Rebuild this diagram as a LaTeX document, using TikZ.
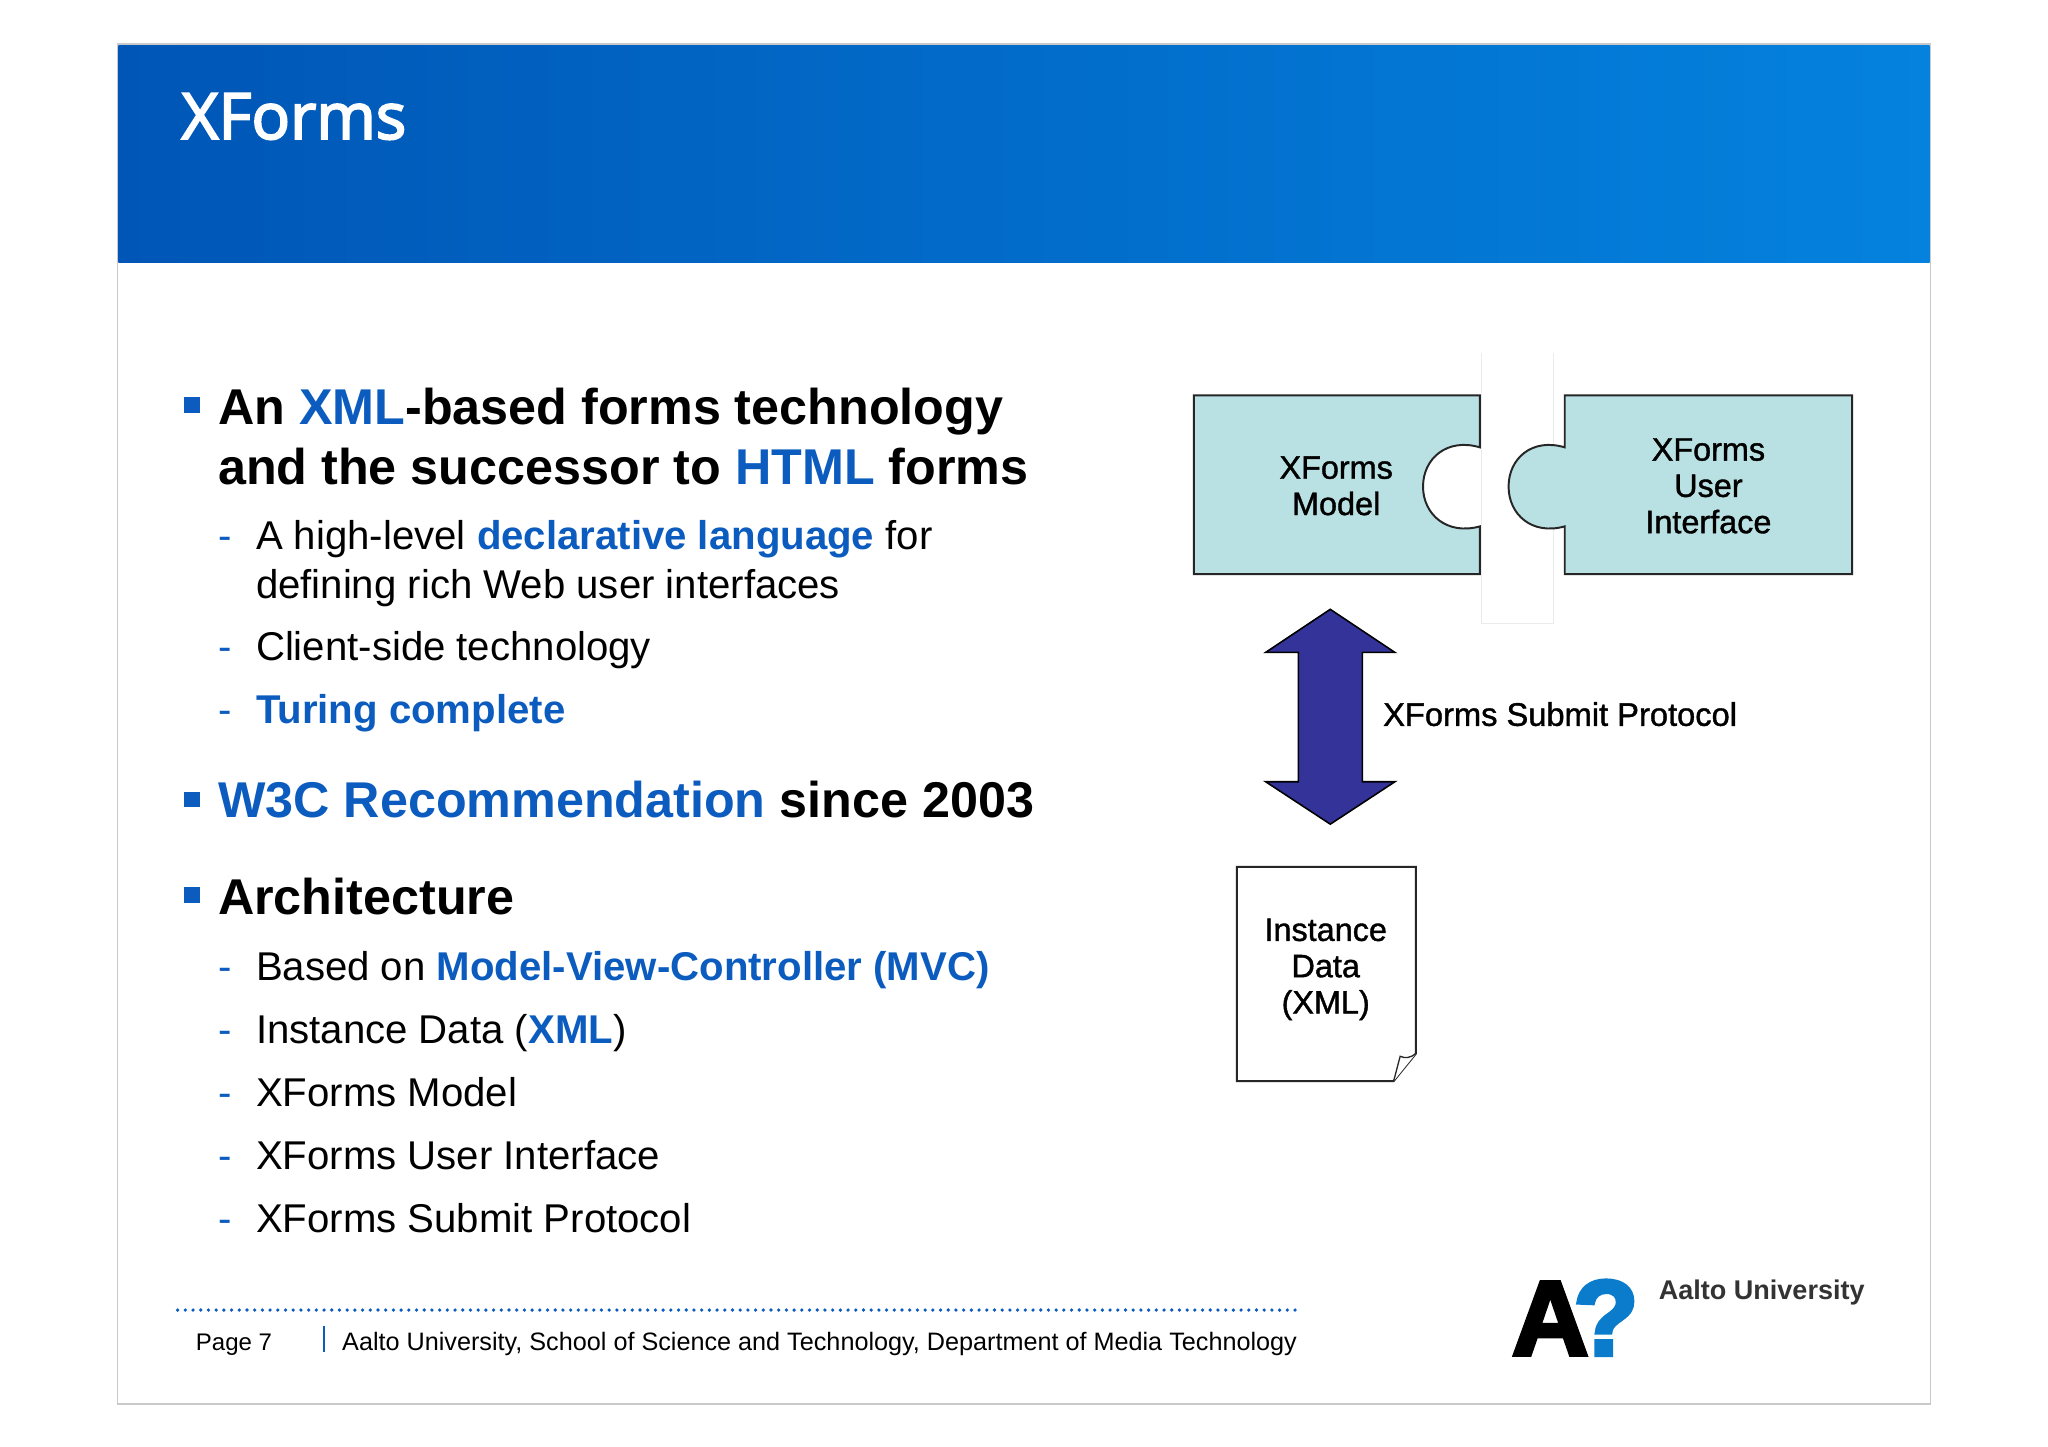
\documentclass[tikz,border=0pt]{standalone}
\usepackage{fontspec}
\setmainfont{Liberation Sans}
\newfontfamily\titlefont[FakeBold=3]{Open Sans}
\newfontfamily\diagfont[FakeBold=1.2]{Liberation Sans}
\newfontfamily\logofont[UprightFont={* Bold},FakeBold=3.5]{Liberation Sans}
\definecolor{aaltoblue}{HTML}{0B5CBE}
\definecolor{hdrL}{HTML}{0056B6}
\definecolor{hdrR}{HTML}{0482DE}
\definecolor{framegray}{HTML}{C9C9CB}
\definecolor{piece}{HTML}{B9E0E2}
\definecolor{arrowblue}{HTML}{333399}
\definecolor{logoblue}{HTML}{0A7CCB}
\newcommand{\hl}[1]{\textcolor{aaltoblue}{#1}}
\newcommand{\fsz}[1]{\fontsize{#1}{#1}\selectfont}
\tikzset{
  every node/.style={inner sep=0pt,outer sep=0pt},
  lvlone/.style={anchor=base west,font=\fsz{38.5}\bfseries},
  lvltwo/.style={anchor=base west,font=\fsz{30.75}},
  dashmark/.style={anchor=base west,font=\fsz{30.75},text=aaltoblue},
  sqbullet/.style={fill=aaltoblue,minimum size=12pt,anchor=center},
  diagtext/.style={align=center,font=\diagfont\fsz{24.8},text=black},
  foot/.style={anchor=base west,font=\fsz{19.3}},
}
\begin{document}
\begin{tikzpicture}[x=1pt,y=-1pt,line join=miter]
\useasboundingbox (0,0) rectangle (1568,1107.8);
\fill[white] (0,0) rectangle (1568,1107.8);
% slide frame and header
\draw[framegray,line width=1.4pt] (90,34) rectangle (1478,1075);
\shade[left color=hdrL,right color=hdrR] (90.7,34.7) rectangle (1477.3,201);
\node[anchor=base west,font=\titlefont\fsz{49},text=white] (title) at (139,106.4) {XForms};
% bullets
\node[sqbullet] (b1) at (147,310) {};
\node[sqbullet] (b2) at (147,612) {};
\node[sqbullet] (b3) at (147,685) {};
\node[lvlone] (l1) at (167,325) {An \hl{XML}-based forms technology};
\node[lvlone] (l2) at (167,371) {and the successor to \hl{HTML} forms};
\node[lvlone] (l3) at (167,626) {\hl{W3C Recommendation} since 2003};
\node[lvlone] (l4) at (167,700) {Architecture};
\foreach \nm/\yy in {d1/421,d3/506,d4/554,d5/751,d6/799,d7/847.4,d8/895.6,d9/943.8}{
  \node[dashmark] (\nm) at (167,\yy) {-};
}
\node[lvltwo] (s1) at (196,421) {A high-level \textbf{\hl{declarative language}} for};
\node[lvltwo] (s2) at (196,458) {defining rich Web user interfaces};
\node[lvltwo] (s3) at (196,506) {Client-side technology};
\node[lvltwo] (s4) at (196,554) {\textbf{\hl{Turing complete}}};
\node[lvltwo] (s5) at (196,751) {Based on \textbf{\hl{Model-View-Controller (MVC)}}};
\node[lvltwo] (s6) at (196,799) {Instance Data (\textbf{\hl{XML}})};
\node[lvltwo] (s7) at (196,847.4) {XForms Model};
\node[lvltwo] (s8) at (196,895.6) {XForms User Interface};
\node[lvltwo] (s9) at (196,943.8) {XForms Submit Protocol};
% white strip of the puzzle image
\draw[black!8,line width=0.7pt] (1134,270) -- (1134,477) -- (1189,477) -- (1189,270);
% puzzle pieces
\draw[fill=piece,draw=black!85,line width=1.5pt]
  (914,302.7) -- (1133,302.7) -- (1133,342.5)
  .. controls (1108,335) and (1089.5,351) .. (1089.5,372.5)
  .. controls (1089.5,394) and (1108,410) .. (1133,403)
  -- (1133,439.5) -- (914,439.5) -- cycle;
\draw[fill=piece,draw=black!85,line width=1.5pt]
  (1418,302.7) -- (1198,302.7) -- (1198,342.5)
  .. controls (1173,335) and (1155,351) .. (1155,372.5)
  .. controls (1155,394) and (1173,410) .. (1198,403)
  -- (1198,439.5) -- (1418,439.5) -- cycle;
\node[diagtext] (model) at (1023,372) {XForms\\[3pt]Model};
\node[diagtext] (ui) at (1308,372) {XForms\\[3pt]User\\[3pt]Interface};
% double arrow
\draw[fill=arrowblue,draw=black,line width=1.2pt]
  (1018.5,466.5) -- (1068,499.5) -- (1043,499.5) -- (1043,598.5) -- (1068,598.5)
  -- (1018.5,631) -- (969,598.5) -- (994,598.5) -- (994,499.5) -- (969,499.5) -- cycle;
\node[anchor=base west,font=\diagfont\fsz{25}] (proto) at (1059,555.7) {XForms Submit Protocol};
% document
\draw[fill=white,draw=black!85,line width=1.5pt]
  (947,663.7) -- (1084,663.7) -- (1084,806.7) -- (1067,827.7) -- (947,827.7) -- cycle;
\draw[fill=white,draw=black!85,line width=1pt]
  (1067,827.7) -- (1072,808.7) .. controls (1076,810.7) and (1080,809.7) .. (1084,806.7);
\node[diagtext] (inst) at (1015,742.2) {Instance\\[3pt]Data\\[3pt](XML)};
% footer
\draw[aaltoblue,line width=2.8pt,line cap=round,dash pattern=on 0pt off 5.9pt] (136,1003) -- (993,1003);
\draw[aaltoblue,line width=1.8pt] (248,1015) -- (248,1035);
\node[foot,font=\fsz{18.4}] (page) at (150,1033.8) {Page 7};
\node[foot] (org) at (262,1033.8) {Aalto University, School of Science and Technology, Department of Media Technology};
% logo
\node[anchor=base west,font=\logofont\fsz{81.5}] (logoa) at (1157.5,1037.5) {A};
\node[anchor=base west,font=\logofont\fsz{82},text=logoblue] (logoq) at (1204.5,1037.5) {?};
\node[anchor=base west,font=\fsz{20.7}\bfseries,text=black!80] (logot) at (1270,995) {Aalto University};
\end{tikzpicture}
\end{document}
